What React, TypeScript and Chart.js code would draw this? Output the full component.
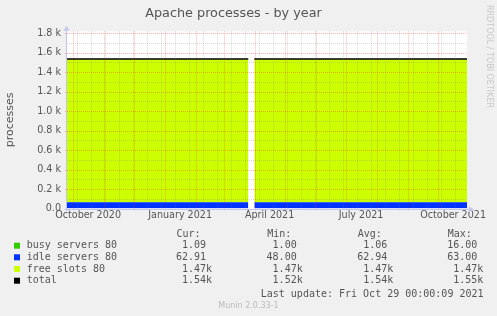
import React, { useEffect, useRef } from "react";
import { Chart, registerables } from "chart.js";

Chart.register(...registerables);

// ---- data (x = days since 1 Oct 2020) ----
const sampleDays = [-5.6, 25, 55, 85, 115, 145, 175.7, 178.7, 181.7, 212, 242, 272, 302, 332, 362, 394.4];
const busyServers = [1.0, 1.0, 1.1, 1.0, 1.1, 1.0, 1.0, null, 1.1, 1.0, 1.1, 1.0, 1.1, 1.0, 1.1, 1.09];
const idleServers = [63, 63, 63, 63, 63, 63, 63, null, 63, 63, 63, 63, 63, 63, 63, 62.91];
const freeSlots = [1470, 1470, 1470, 1470, 1470, 1470, 1470, null, 1470, 1470, 1470, 1470, 1470, 1470, 1470, 1470];
const totalProcs = [1534, 1534, 1534, 1534, 1534, 1534, 1534, null, 1534, 1534, 1534, 1534, 1534, 1534, 1534, 1534];

const xRange = [-5.6, 394.4];
const xTickDays = [15.5, 107.5, 197, 288.5, 380.5];
const xTickLabels = ["October 2020", "January 2021", "April 2021", "July 2021", "October 2021"];
const monthStartDays = [0, 31, 61, 92, 123, 151, 182, 212, 243, 273, 304, 335, 365];
const minorGridDays = [4, 18, 32, 46, 60, 74, 88, 102, 116, 130, 144, 158, 172, 186, 200, 214, 228, 242, 256, 270, 284, 298, 312, 326, 340, 354, 368, 382];
const yTickValues = [0, 200, 400, 600, 800, 1000, 1200, 1400, 1600, 1800];
const yMinorValues = [100, 300, 500, 700, 900, 1100, 1300, 1500, 1700];
const yMax = 1819;

const legendLabels = ["busy servers 80", "idle servers 80", "free slots 80", "total"];
const legendColors = ["#33cc00", "#0033ff", "#ccff00", "#000000"];
const curValues = ["1.09 ", "62.91 ", "1.47k", "1.54k"];
const minValues = ["1.00 ", "48.00 ", "1.47k", "1.52k"];
const avgValues = ["1.06 ", "62.94 ", "1.47k", "1.54k"];
const maxValues = ["16.00 ", "63.00 ", "1.47k", "1.55k"];
const statHeaders = ["Cur:", "Min:", "Avg:", "Max:"];
const lastUpdate = "Last update: Fri Oct 29 00:00:09 2021";
const versionText = "Munin 2.0.33-1";
const sideText = "RRDTOOL / TOBI OETIKER";

const pts = (vals: (number | null)[]) => sampleDays.map((d, i) => ({ x: d, y: vals[i] }));

const TEXT = "#555555";
const AXIS = "#c4c4f0";

const munPlugin = {
  id: "munin",
  beforeDraw(chart: any) {
    const { ctx, chartArea: a } = chart;
    ctx.save();
    ctx.fillStyle = "#f0f0f0";
    ctx.fillRect(0, 0, chart.width, chart.height);
    ctx.fillStyle = "#ffffff";
    ctx.fillRect(a.left, a.top, a.right - a.left, a.bottom - a.top);
    ctx.restore();
  },
  afterDatasetsDraw(chart: any) {
    const { ctx, chartArea: a, scales } = chart;
    const xs = scales.x, ys = scales.y;
    ctx.save();
    ctx.lineWidth = 1;
    ctx.setLineDash([1, 1]);
    const vline = (d: number, col: string, ext: number) => {
      const px = Math.round(xs.getPixelForValue(d)) + 0.5;
      if (px < a.left || px > a.right) return;
      ctx.strokeStyle = col;
      ctx.beginPath();
      ctx.moveTo(px, a.top);
      ctx.lineTo(px, a.bottom + ext);
      ctx.stroke();
    };
    const hline = (v: number, col: string, ext: number) => {
      const py = Math.round(ys.getPixelForValue(v)) + 0.5;
      ctx.strokeStyle = col;
      ctx.beginPath();
      ctx.moveTo(a.left - ext, py);
      ctx.lineTo(a.right, py);
      ctx.stroke();
    };
    const minorCol = "rgba(128,128,128,0.3)";
    const majorCol = "rgba(255,0,0,0.3)";
    minorGridDays.forEach((d) => vline(d, minorCol, 0));
    yMinorValues.forEach((v) => hline(v, minorCol, 0));
    monthStartDays.forEach((d) => vline(d, majorCol, 2));
    yTickValues.filter((v) => v > 0).forEach((v) => hline(v, majorCol, 2));
    ctx.setLineDash([]);
    // axes with arrows
    ctx.strokeStyle = AXIS;
    ctx.fillStyle = AXIS;
    const ax = Math.round(a.left) - 0.5;
    const ay = Math.round(a.bottom) + 0.5;
    ctx.beginPath();
    ctx.moveTo(ax, ay + 2);
    ctx.lineTo(ax, a.top - 3);
    ctx.moveTo(ax - 2, ay);
    ctx.lineTo(a.right + 4, ay);
    ctx.stroke();
    ctx.beginPath();
    ctx.moveTo(ax - 3, a.top - 0.5);
    ctx.lineTo(ax + 3, a.top - 0.5);
    ctx.lineTo(ax, a.top - 5.5);
    ctx.closePath();
    ctx.fill();
    ctx.beginPath();
    ctx.moveTo(a.right + 2, ay - 3);
    ctx.lineTo(a.right + 2, ay + 3);
    ctx.lineTo(a.right + 7, ay);
    ctx.closePath();
    ctx.fill();
    ctx.restore();
  },
  afterDraw(chart: any) {
    const { ctx } = chart;
    ctx.save();
    // legend
    ctx.font = "10px 'DejaVu Sans Mono'";
    ctx.textBaseline = "middle";
    const colRight = [212, 302.7, 393.3, 483.3];
    ctx.fillStyle = TEXT;
    ctx.textAlign = "left";
    statHeaders.forEach((h, i) => ctx.fillText(h, colRight[i] - 35.5, 234));
    const rowY = [245.7, 257.3, 269, 280.7];
    const cols = [curValues, minValues, avgValues, maxValues];
    legendLabels.forEach((lab, r) => {
      ctx.fillStyle = legendColors[r];
      ctx.fillRect(14, rowY[r] - 3, 6, 6);
      ctx.fillStyle = TEXT;
      ctx.textAlign = "left";
      ctx.fillText(lab, 26.7, rowY[r]);
      ctx.textAlign = "right";
      cols.forEach((c, ci) => {
        const s = c[r];
        const t = s.endsWith(" ") ? s.trimEnd() : s;
        const off = s.endsWith(" ") ? ctx.measureText(" ").width : 0;
        ctx.fillText(t, colRight[ci] - off, rowY[r]);
      });
    });
    ctx.textAlign = "right";
    ctx.fillText(lastUpdate, 483.5, 294);
    ctx.font = "8px 'DejaVu Sans'";
    ctx.fillStyle = "#bbbbbb";
    ctx.textAlign = "center";
    ctx.fillText(versionText, 248.5, 305.7);
    // side text
    ctx.fillStyle = "#c8c8c8";
    ctx.textAlign = "left";
    ctx.translate(489, 5);
    ctx.rotate(Math.PI / 2);
    ctx.fillText(sideText, 0, 0);
    ctx.restore();
  },
};

export default function App() {
  const ref = useRef<HTMLCanvasElement>(null);
  useEffect(() => {
    document.body.style.margin = "0";
    const chart = new Chart(ref.current as HTMLCanvasElement, {
      type: "line",
      data: {
        datasets: [
          { label: "busy servers 80", data: pts(busyServers), backgroundColor: "#33cc00", borderWidth: 0, pointRadius: 0, fill: "origin", stack: "s" },
          { label: "idle servers 80", data: pts(idleServers), backgroundColor: "#0033ff", borderWidth: 0, pointRadius: 0, fill: "-1", stack: "s" },
          { label: "free slots 80", data: pts(freeSlots), backgroundColor: "#ccff00", borderWidth: 0, pointRadius: 0, fill: "-1", stack: "s" },
          { label: "total", data: pts(totalProcs), borderColor: "#000000", borderWidth: 1.5, pointRadius: 0, fill: false, stack: "t", order: -1 },
        ] as any,
      },
      options: {
        animation: false,
        responsive: false,
        spanGaps: false,
        layout: { padding: { left: 0, right: 30, top: 0, bottom: 0 } },
        plugins: {
          legend: { display: false },
          tooltip: { enabled: false },
          title: {
            display: true,
            text: "Apache processes - by year",
            color: TEXT,
            font: { family: "'DejaVu Sans'", size: 12.8, weight: "normal" },
            padding: { top: 5.5, bottom: 10.5 },
          },
        },
        scales: {
          x: {
            type: "linear",
            min: xRange[0],
            max: xRange[1],
            grid: { display: false, drawTicks: false },
            border: { display: false },
            afterBuildTicks: (s: any) => { s.ticks = xTickDays.map((v) => ({ value: v })); },
            afterFit: (s: any) => { s.height = 107.5; },
            ticks: {
              autoSkip: false,
              maxRotation: 0,
              padding: 1,
              color: TEXT,
              font: { family: "'DejaVu Sans'", size: 9.6 },
              callback: (_v: any, i: number) => xTickLabels[i],
            },
          },
          y: {
            type: "linear",
            stacked: true,
            min: 0,
            max: yMax,
            grid: { display: false, drawTicks: false },
            border: { display: false },
            afterBuildTicks: (s: any) => { s.ticks = yTickValues.map((v) => ({ value: v })); },
            afterFit: (s: any) => { s.width = 67; },
            title: {
              display: true,
              text: "processes",
              color: TEXT,
              font: { family: "'DejaVu Sans'", size: 11 },
              padding: { top: 4, bottom: 0 },
            },
            ticks: {
              padding: 6,
              color: TEXT,
              font: { family: "'DejaVu Sans'", size: 9.6 },
              callback: (v: any) => (v === 0 ? "0.0" : (v / 1000).toFixed(1) + " k"),
            },
          },
        },
      } as any,
      plugins: [munPlugin],
    });
    return () => chart.destroy();
  }, []);
  return (
    <div style={{ position: "absolute", left: 0, top: 0 }}>
      <canvas ref={ref} width={497} height={316} style={{ display: "block" }} />
    </div>
  );
}
